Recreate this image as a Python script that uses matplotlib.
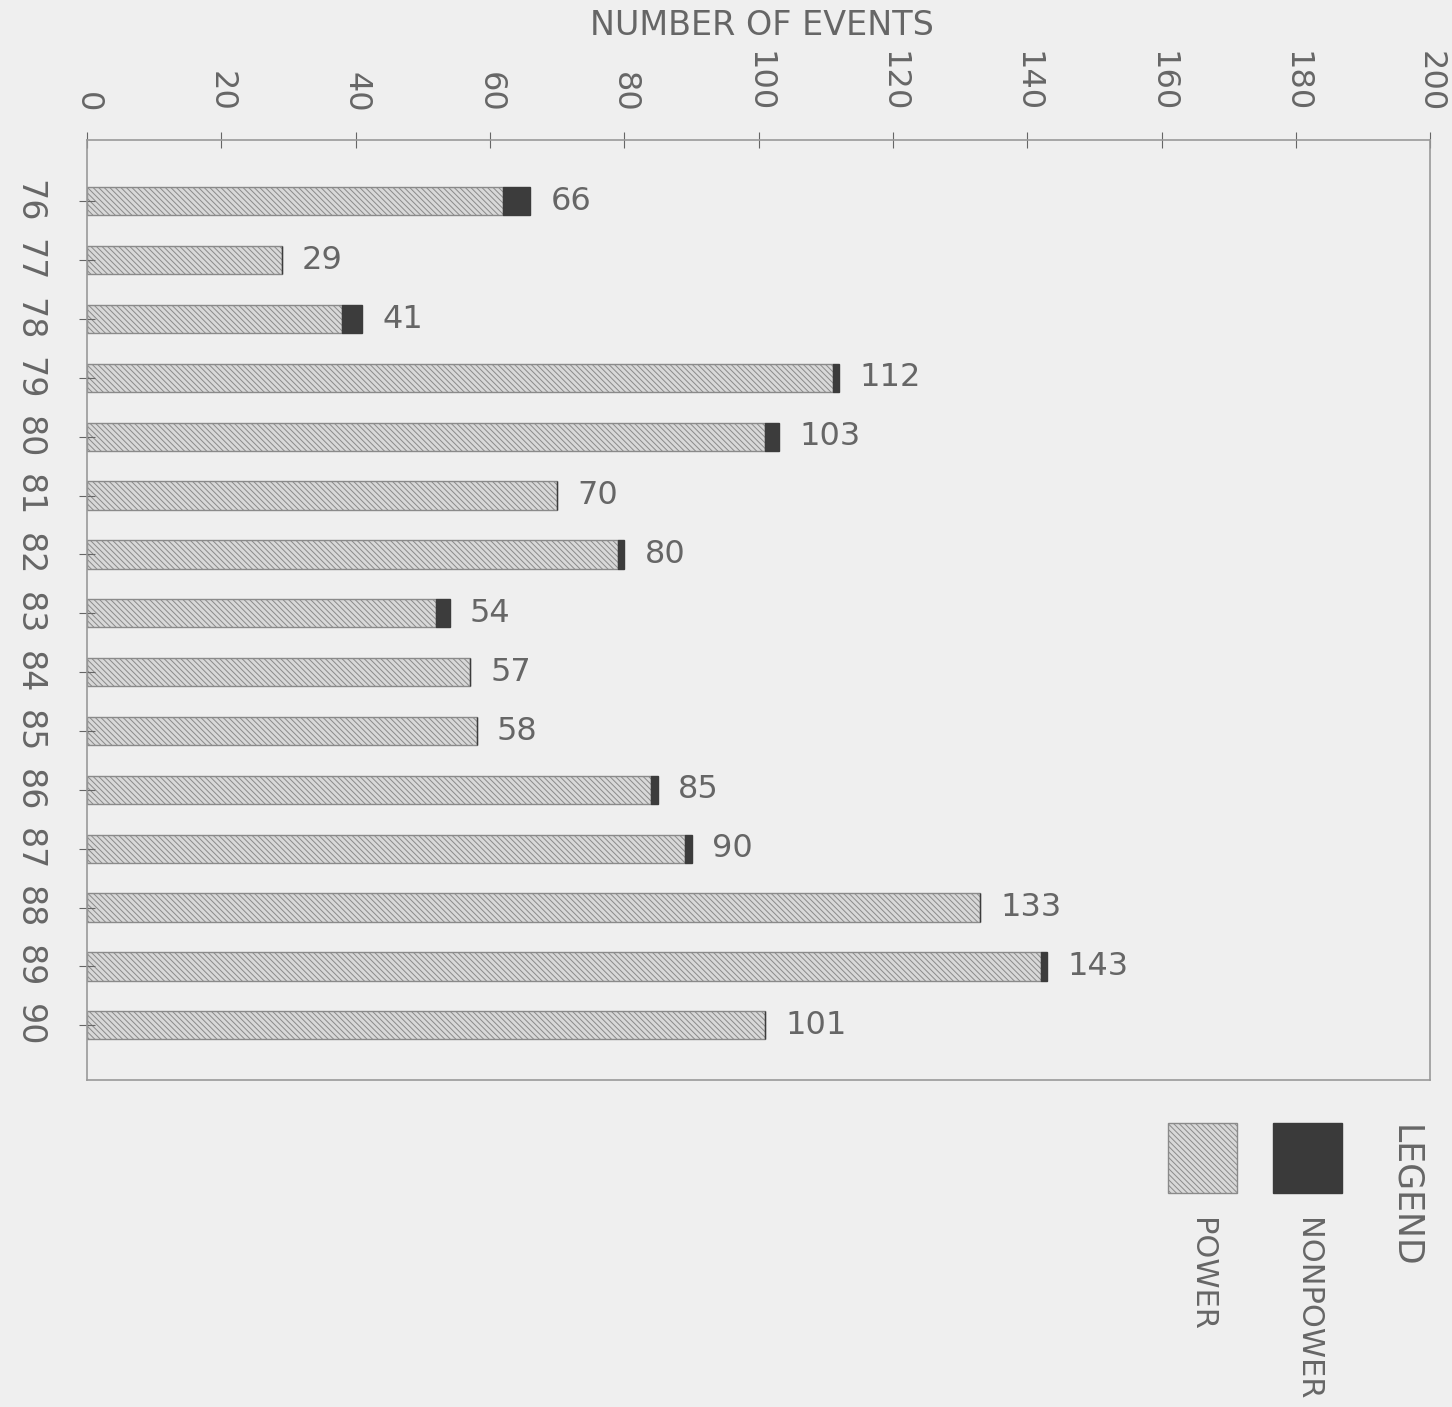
import matplotlib.pyplot as plt
from matplotlib.patches import Rectangle

years = ['76', '77', '78', '79', '80', '81', '82', '83', '84', '85', '86', '87', '88', '89', '90']
totals = [66, 29, 41, 112, 103, 70, 80, 54, 57, 58, 85, 90, 133, 143, 101]
nonpower = [4, 0, 3, 1, 2, 0, 1, 2, 0, 0, 1, 1, 0, 1, 0]
power = [t - n for t, n in zip(totals, nonpower)]

plt.rcParams['hatch.linewidth'] = 0.7

bg = '#efefef'
grey = '#666666'

fig = plt.figure(figsize=(14.52, 14.07), dpi=100, facecolor=bg)
ax = fig.add_axes([0.06, 0.2324, 0.925, 0.668], facecolor=bg)

pos = list(range(len(years)))
ax.barh(pos, power, height=0.48, color='#d8d8d8', edgecolor='#8a8a8a',
        hatch='\\\\\\\\\\\\', linewidth=1)
ax.barh(pos, nonpower, left=power, height=0.48, color='#3c3c3c',
        edgecolor='#3c3c3c', linewidth=1)

# totals next to the bars
for p, t in zip(pos, totals):
    ax.text(t + 3, p, str(t), va='center', ha='left', fontsize=23, color=grey)

ax.set_xlim(0, 200)
ax.set_ylim(14.93, -1.04)
ax.set_xticks(range(0, 201, 20))
ax.set_yticks(pos)
ax.set_yticklabels(years, rotation=-90, va='center')
ax.xaxis.tick_top()
ax.tick_params(axis='x', labelrotation=-90, labelsize=23, colors=grey,
               direction='inout', length=12, pad=14)
ax.tick_params(axis='y', labelsize=24, colors=grey, direction='inout',
               length=12, pad=24)
for lab in ax.get_xticklabels():
    lab.set_va('bottom')
for s in ax.spines.values():
    s.set_color('#999999')
    s.set_linewidth(1.2)

fig.text(0.525, 0.982, 'NUMBER OF EVENTS', ha='center', va='center',
         fontsize=24, color=grey)

# legend drawn by hand, rotated like the rest of the page
fig.patches.append(Rectangle((1273 / 1452, 1 - 1193 / 1407), 69 / 1452, 70 / 1407,
                             transform=fig.transFigure, facecolor='#3a3a3a',
                             edgecolor='#3a3a3a'))
fig.patches.append(Rectangle((1168 / 1452, 1 - 1193 / 1407), 69 / 1452, 70 / 1407,
                             transform=fig.transFigure, facecolor='#d8d8d8',
                             edgecolor='#8a8a8a', hatch='\\\\\\\\\\\\'))
fig.text(1405 / 1452, 1 - 1125 / 1407, 'LEGEND', rotation=-90, ha='center',
         va='top', fontsize=25, color=grey)
fig.text(1307 / 1452, 1 - 1218 / 1407, 'NONPOWER', rotation=-90, ha='center',
         va='top', fontsize=22, color=grey)
fig.text(1202 / 1452, 1 - 1218 / 1407, 'POWER', rotation=-90, ha='center',
         va='top', fontsize=22, color=grey)

plt.savefig('out.png', facecolor=bg)
